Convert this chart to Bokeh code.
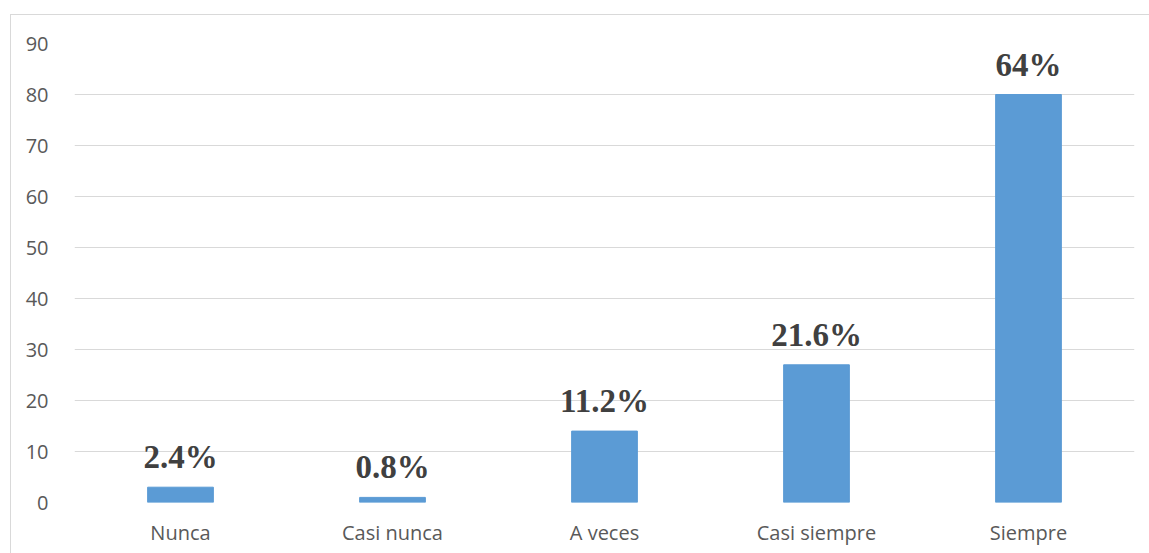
from bokeh.plotting import figure
from bokeh.models import ColumnDataSource, Range1d, FactorRange, SingleIntervalTicker
from bokeh.core.properties import value
from bokeh.embed import file_html
from bokeh.resources import INLINE

categories = ["Nunca", "Casi nunca", "A veces", "Casi siempre", "Siempre"]
counts = [3, 1, 14, 27, 80]
percent_labels = ["2.4%", "0.8%", "11.2%", "21.6%", "64%"]

src = ColumnDataSource(dict(cat=categories, val=counts, lab=percent_labels))

p = figure(x_range=FactorRange(*categories, range_padding=0), y_range=Range1d(0, 90),
           width=1139, height=539, output_backend="svg", toolbar_location=None,
           min_border_left=63, min_border_right=16, min_border_top=28, min_border_bottom=52)
p.margin = (14, 0, 0, 10)
p.styles = {"border-top": "1px solid #d9d9d9", "border-left": "1px solid #d9d9d9", "box-sizing": "border-box"}
p.x_range.range_padding = 0

p.vbar(x="cat", top="val", width=0.31, source=src, fill_color="#5B9BD5", line_color="#5B9BD5")
p.text(x="cat", y="val", text="lab", source=src, text_align="center", text_baseline="alphabetic",
       y_offset=-30, text_font=value("Liberation Serif"), text_font_style="bold",
       text_font_size="33px", text_color="#404040")

p.outline_line_color = None
p.xgrid.grid_line_color = None
p.ygrid.grid_line_color = "#d9d9d9"
p.ygrid.grid_line_width = 1
p.yaxis.ticker = SingleIntervalTicker(interval=10)
for ax in (p.xaxis, p.yaxis):
    ax.axis_line_color = None
    ax.major_tick_line_color = None
    ax.minor_tick_line_color = None
    ax.major_label_text_color = "#595959"
    ax.major_label_text_font = "Open Sans"
    ax.major_label_text_font_size = "20px"
p.yaxis.major_label_standoff = 20
p.xaxis.major_label_standoff = 10

open("out.html", "w").write(file_html(p, INLINE))
